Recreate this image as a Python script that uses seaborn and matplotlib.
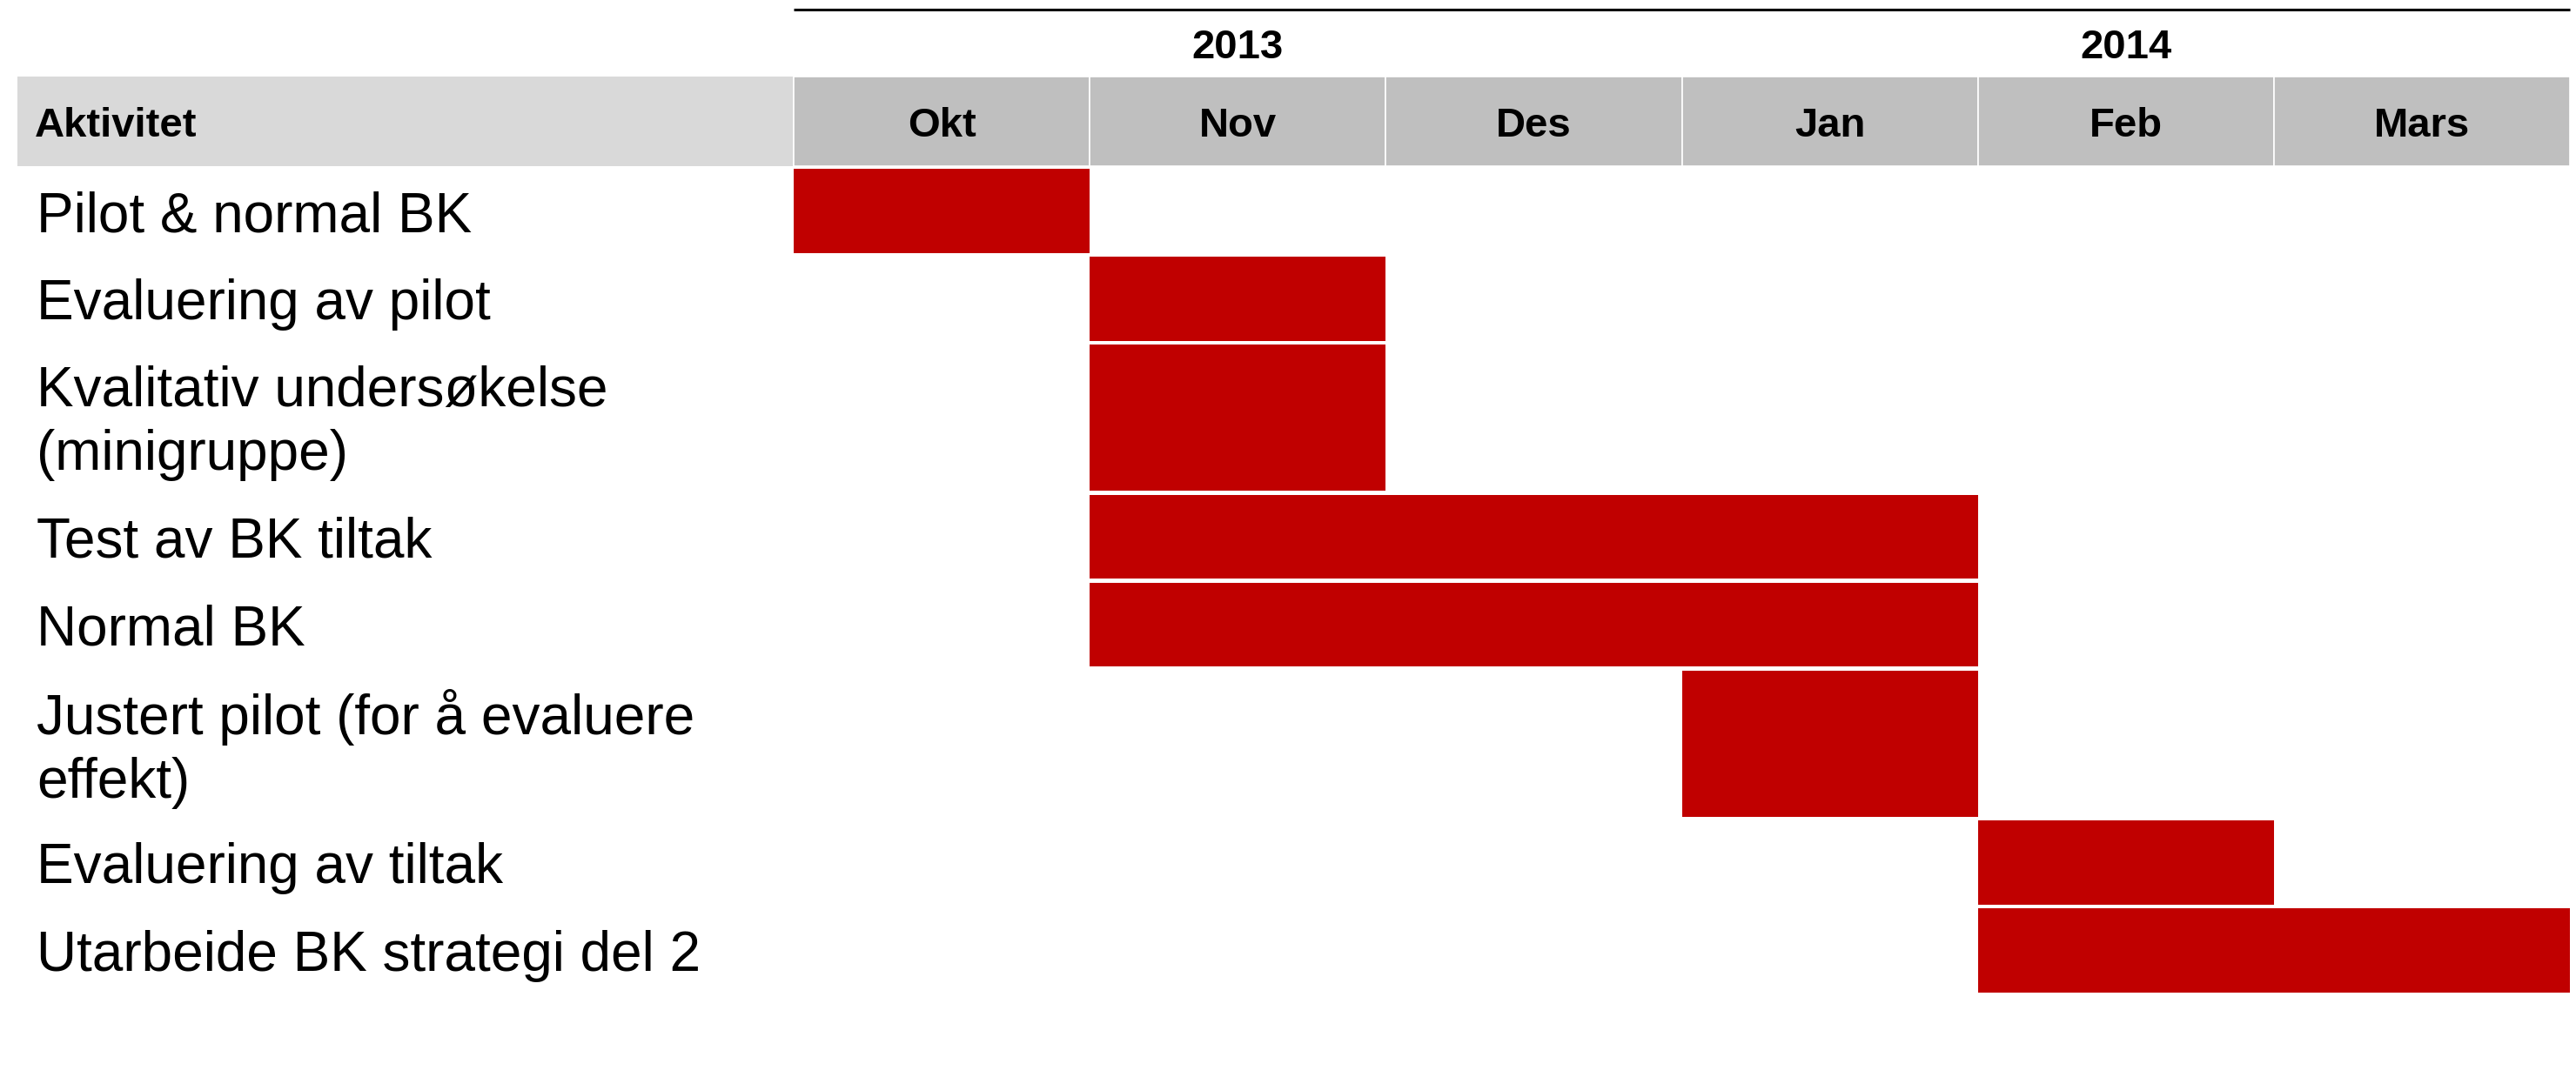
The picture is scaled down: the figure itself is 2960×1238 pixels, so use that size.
import pandas as pd
import seaborn as sns
import matplotlib.pyplot as plt

# plan data
activities = ["Pilot & normal BK",
              "Evaluering av pilot",
              "Kvalitativ undersøkelse\n(minigruppe)",
              "Test av BK tiltak",
              "Normal BK",
              "Justert pilot (for å evaluere\neffekt)",
              "Evaluering av tiltak",
              "Utarbeide BK strategi del 2"]
start_month = [0, 1, 1, 1, 1, 3, 4, 4]
n_months = [1, 1, 1, 3, 3, 1, 1, 2]
months = ["Okt", "Nov", "Des", "Jan", "Feb", "Mars"]
years = ["2013", "2014"]
months_per_year = [3, 3]
header_label = "Aktivitet"

sns.set_style("white")
plt.rcParams['font.family'] = ['Liberation Sans', 'DejaVu Sans']
plt.rcParams['text.color'] = 'black'

plan = pd.DataFrame({"aktivitet": activities, "start": start_month, "varighet": n_months})
plan["linjer"] = plan["aktivitet"].str.count("\n") + 1
plan["hoyde"] = 1 + 0.708 * (plan["linjer"] - 1)
plan["topp"] = plan["hoyde"].cumsum() - plan["hoyde"]

# layout (pixels of the 2960x1238 canvas)
W, H = 2960, 1238
col_px = 340.17
row_px = 101.0
x0_px = 912
y0_px = 191.75

def px_x(p):
    return (p - x0_px) / col_px

def px_y(p):
    return (p - y0_px) / row_px

fig = plt.figure(figsize=(W / 100, H / 100), dpi=100)
ax = fig.add_axes([0, 0, 1, 1])
ax.set_xlim(px_x(0), px_x(W))
ax.set_ylim(px_y(H), px_y(0))
ax.axis('off')

red = '#C00000'
gap = 4.5 / row_px

# gantt bars
ax.barh(plan["topp"] + gap / 2, plan["varighet"], left=plan["start"],
        height=plan["hoyde"] - gap, align='edge', color=red, linewidth=0)

# activity labels
lab_size = 46
cap_shift = 0.106 * lab_size * 100 / 72 / row_px
for _, r in plan.iterrows():
    ax.text(px_x(42), r["topp"] + r["hoyde"] / 2 + cap_shift, r["aktivitet"],
            ha='left', va='center', fontsize=lab_size, color='black',
            linespacing=1.27)

# header row
h_top, h_bot = px_y(88), px_y(191)
ax.barh([h_top], [px_x(911) - px_x(20)], left=px_x(20), height=h_bot - h_top,
        align='edge', color='#D9D9D9', linewidth=0)
ax.barh([h_top] * len(months), [1] * len(months), left=list(range(len(months))),
        height=h_bot - h_top, align='edge', color='#BFBFBF',
        edgecolor='white', linewidth=1.2)

hd_size = 34
hd_shift = 0.106 * hd_size * 100 / 72 / row_px
h_mid = (h_top + h_bot) / 2 + hd_shift
ax.text(px_x(40), h_mid, header_label, ha='left', va='center',
        fontsize=hd_size, fontweight='bold', color='black')
for i, m in enumerate(months):
    ax.text(i + 0.5, h_mid, m, ha='center', va='center',
            fontsize=hd_size, fontweight='bold', color='black')

# years
pos = 0
for y, n in zip(years, months_per_year):
    ax.text(pos + n / 2, px_y(49.5) + hd_shift, y, ha='center', va='center',
            fontsize=hd_size, fontweight='bold', color='black')
    pos += n

ax.plot([0, len(months)], [px_y(11), px_y(11)], color='black', lw=2.2,
        solid_capstyle='butt')

fig.savefig("out.png", dpi=100, facecolor='white')
